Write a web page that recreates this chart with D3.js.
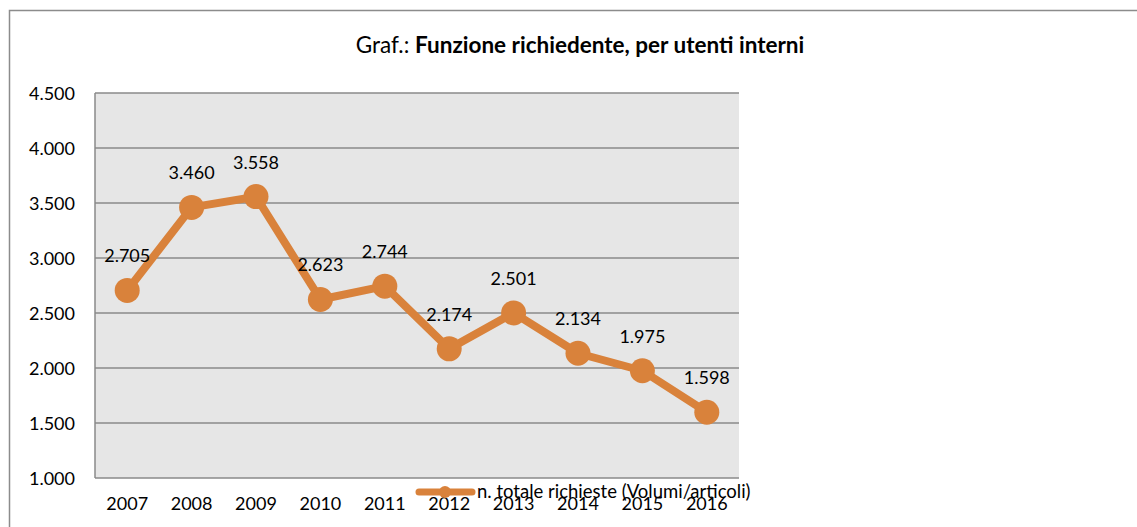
<!DOCTYPE html>
<html>
<head>
<meta charset="utf-8">
<script src="https://cdn.jsdelivr.net/npm/d3@7"></script>
<style>
  body { margin: 0; background: #fff; }
  text { font-family: Lato, "Liberation Sans", sans-serif; fill: #000; }
</style>
</head>
<body>
<div id="chart"></div>
<script>
const years = ["2007", "2008", "2009", "2010", "2011", "2012", "2013", "2014", "2015", "2016"];
const richieste = [2705, 3460, 3558, 2623, 2744, 2174, 2501, 2134, 1975, 1598];
const yTicks = [1000, 1500, 2000, 2500, 3000, 3500, 4000, 4500];
const seriesName = "n. totale richieste (Volumi/articoli)";

const width = 1137, height = 527;
const plotLeft = 95, plotRight = 739, plotTop = 93, plotBottom = 478;
const orange = "#D9823B";

const svg = d3.select("#chart")
    .append("svg")
    .attr("width", width)
    .attr("height", height);

// outer chart frame
svg.append("rect")
    .attr("x", 9.5).attr("y", 10.5)
    .attr("width", 1200).attr("height", 600)
    .attr("fill", "none")
    .attr("stroke", "#8c8c8c")
    .attr("stroke-width", 1.5);

const x = d3.scaleBand().domain(years).range([plotLeft, plotRight]);
const y = d3.scaleLinear().domain([1000, 4500]).range([plotBottom, plotTop]);

// plot area
svg.append("rect")
    .attr("x", plotLeft).attr("y", plotTop)
    .attr("width", plotRight - plotLeft).attr("height", plotBottom - plotTop)
    .attr("fill", "#E6E6E6");

svg.selectAll(".grid")
    .data(yTicks)
    .enter()
    .append("line")
    .attr("x1", plotLeft).attr("x2", plotRight)
    .attr("y1", d => y(d)).attr("y2", d => y(d))
    .attr("stroke", "#8a8a8a")
    .attr("stroke-width", 1.5);

svg.append("line")
    .attr("x1", plotLeft).attr("x2", plotLeft)
    .attr("y1", plotTop).attr("y2", plotBottom)
    .attr("stroke", "#8a8a8a")
    .attr("stroke-width", 1.5);

const fmt = d3.formatLocale({ decimal: ",", thousands: ".", grouping: [3], currency: ["", "€"] }).format(",");

// y axis labels
svg.selectAll(".ylab")
    .data(yTicks)
    .enter()
    .append("text")
    .attr("x", plotLeft - 20)
    .attr("y", d => y(d) + 6.5)
    .attr("text-anchor", "end")
    .style("font-size", "18px")
    .text(d => fmt(d));

// x axis labels
svg.selectAll(".xlab")
    .data(years)
    .enter()
    .append("text")
    .attr("x", d => x(d) + x.bandwidth() / 2)
    .attr("y", 510)
    .attr("text-anchor", "middle")
    .style("font-size", "18px")
    .text(d => d);

// series line
const pts = years.map((yr, i) => ({ year: yr, value: richieste[i] }));

svg.append("path")
    .datum(pts)
    .attr("fill", "none")
    .attr("stroke", orange)
    .attr("stroke-width", 8)
    .attr("stroke-linejoin", "round")
    .attr("d", d3.line()
        .x(d => x(d.year) + x.bandwidth() / 2)
        .y(d => y(d.value)));

svg.selectAll(".dot")
    .data(pts)
    .enter()
    .append("circle")
    .attr("cx", d => x(d.year) + x.bandwidth() / 2)
    .attr("cy", d => y(d.value))
    .attr("r", 12.5)
    .attr("fill", orange);

svg.selectAll(".val")
    .data(pts)
    .enter()
    .append("text")
    .attr("x", d => x(d.year) + x.bandwidth() / 2)
    .attr("y", d => y(d.value) - 28)
    .attr("text-anchor", "middle")
    .style("font-size", "18px")
    .text(d => fmt(d.value));

// title
const title = svg.append("text")
    .attr("x", 580)
    .attr("y", 53)
    .attr("text-anchor", "middle")
    .style("font-size", "22.5px");
title.append("tspan").text("Graf.: ");
title.append("tspan").style("font-weight", "bold").text("Funzione richiedente, per utenti interni");

// legend
svg.append("line")
    .attr("x1", 419).attr("x2", 472)
    .attr("y1", 492).attr("y2", 492)
    .attr("stroke", orange)
    .attr("stroke-width", 7)
    .attr("stroke-linecap", "round");
svg.append("circle")
    .attr("cx", 445).attr("cy", 492)
    .attr("r", 6)
    .attr("fill", orange);
svg.append("text")
    .attr("x", 477)
    .attr("y", 498)
    .style("font-size", "18.5px")
    .text(seriesName);
</script>
</body>
</html>
